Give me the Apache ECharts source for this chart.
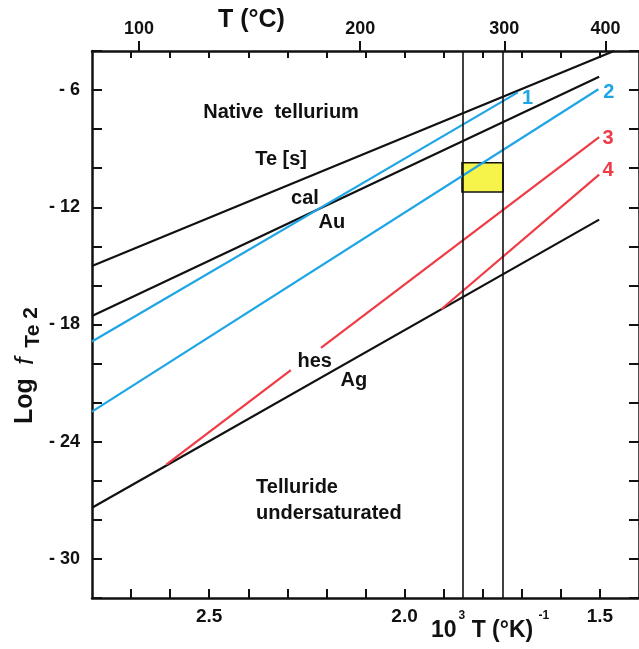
<!DOCTYPE html>
<html>
<head>
<meta charset="utf-8">
<script src="https://cdn.jsdelivr.net/npm/echarts@6/dist/echarts.min.js"></script>
<style>
  html, body { margin: 0; padding: 0; background: #fff; }
  #main { width: 639px; height: 649px; }
</style>
</head>
<body>
<div id="main"></div>
<script>
// axis ticks / labels
const xTicks = [1.5, 1.6, 1.7, 1.8, 1.9, 2.0, 2.1, 2.2, 2.3, 2.4, 2.5, 2.6, 2.7]
const xLabels = [1.5, 2.0, 2.5]
const tempLabels = [100, 200, 300, 400] // °C, top axis
const yLabels = [-6, -12, -18, -24, -30]

// lines, [10^3/T, log fTe2]
const teLine = [[2.8, -15.0], [1.464, -4.0]]
const calLine = [[2.8, -17.56], [1.502, -5.32]]
const blue1 = [[2.8, -18.87], [1.71, -6.12]]
const blue2 = [[2.8, -22.46], [1.504, -5.96]]
const agLine = [[2.8, -27.38], [1.502, -12.63]]
const red3a = [[2.61, -25.17], [2.291, -20.34]]
const red3b = [[2.214, -19.2], [1.502, -8.41]]
const red4 = [[1.906, -17.22], [1.502, -10.33]]

// temperature window and fTe2 box
const tempLines = [1.853, 1.748]
const boxX = [1.853, 1.748]
const boxY = [-9.72, -11.22]

// text in the field
const notes = [
  [2.316, -7.17, 'Native  tellurium'],
  [2.316, -9.57, 'Te [s]'],
  [2.255, -11.56, 'cal'],
  [2.186, -12.78, 'Au'],
  [2.230, -19.87, 'hes'],
  [2.130, -20.89, 'Ag']
]
const lineNums = [
  [1.685, -6.41, '1', '#1ea5e6'],
  [1.477, -6.12, '2', '#1ea5e6'],
  [1.479, -8.46, '3', '#ee3b46'],
  [1.479, -10.11, '4', '#ee3b46']
]

const BLUE = '#1ea5e6'
const RED = '#ee3b46'
const INK = '#111'
const FONT = 'Liberation Sans'

const toX = t => 1000 / (t + 273.15)

const line = (data, color) => ({
  type: 'line',
  data: data,
  showSymbol: false,
  symbol: 'none',
  silent: true,
  lineStyle: { color: color, width: 2.2 },
  z: 3
})

const axisCommon = {
  type: 'value',
  min: 1.4,
  max: 2.8,
  inverse: true,
  splitLine: { show: false },
  axisLine: { lineStyle: { color: INK, width: 2.5 } }
}

const textSeries = (data, label) => ({
  type: 'scatter',
  symbolSize: 0,
  silent: true,
  z: 5,
  itemStyle: { opacity: 1 },
  data: data,
  label: Object.assign({
    show: true, formatter: p => p.name, opacity: 1,
    fontFamily: FONT, fontWeight: 'bold', textBorderWidth: 0
  }, label)
})

const myChart = echarts.init(document.getElementById('main'))
myChart.setOption({
  backgroundColor: '#fff',
  animation: false,
  grid: { left: 92, right: -3, top: 51, bottom: 51 },
  xAxis: [
    {
      ...axisCommon,
      position: 'bottom',
      axisTick: { inside: true, length: 9, customValues: xTicks, lineStyle: { color: INK, width: 2 } },
      axisLabel: {
        customValues: xLabels,
        formatter: v => v.toFixed(1),
        color: INK, fontFamily: FONT, fontWeight: 'bold', fontSize: 19, margin: 9
      }
    },
    {
      ...axisCommon,
      position: 'top',
      axisTick: { inside: true, length: 7, customValues: xTicks, lineStyle: { color: INK, width: 2 } },
      axisLabel: { show: false }
    },
    {
      ...axisCommon,
      position: 'top',
      axisLine: { show: false },
      axisTick: { inside: false, length: 10, customValues: tempLabels.map(toX), lineStyle: { color: INK, width: 2 } },
      axisLabel: {
        customValues: tempLabels.map(toX),
        formatter: v => String(Math.round(1000 / v - 273.15)),
        color: INK, fontFamily: FONT, fontWeight: 'bold', fontSize: 18, margin: 13
      }
    }
  ],
  yAxis: [
    {
      type: 'value',
      position: 'left',
      min: -32,
      max: -4,
      interval: 2,
      splitLine: { show: false },
      axisLine: { lineStyle: { color: INK, width: 2.5 } },
      axisTick: { inside: true, length: 10, lineStyle: { color: INK, width: 2 } },
      axisLabel: {
        customValues: yLabels,
        formatter: v => '- ' + Math.abs(v),
        color: INK, fontFamily: FONT, fontWeight: 'bold', fontSize: 18, margin: 12
      }
    },
    {
      type: 'value',
      position: 'right',
      min: -32,
      max: -4,
      interval: 2,
      splitLine: { show: false },
      axisLine: { lineStyle: { color: INK, width: 2.5 } },
      axisTick: { inside: true, length: 10, lineStyle: { color: INK, width: 2 } },
      axisLabel: { show: false }
    }
  ],
  series: [
    // yellow box + the two temperature lines
    {
      type: 'line',
      data: [],
      silent: true,
      z: 1,
      markArea: {
        silent: true,
        itemStyle: { color: '#f6f34a', borderColor: INK, borderWidth: 1.6 },
        data: [[{ xAxis: boxX[0], yAxis: boxY[0] }, { xAxis: boxX[1], yAxis: boxY[1] }]]
      },
      markLine: {
        silent: true,
        symbol: 'none',
        label: { show: false },
        lineStyle: { color: INK, width: 1.6, type: 'solid' },
        data: tempLines.map(v => ({ xAxis: v }))
      }
    },
    line(teLine, INK),
    line(calLine, INK),
    line(agLine, INK),
    line(blue1, BLUE),
    line(blue2, BLUE),
    line(red3a, RED),
    line(red3b, RED),
    line(red4, RED),
    textSeries(
      notes.map(n => ({ value: [n[0], n[1]], name: n[2] })),
      { position: 'inside', color: INK, fontSize: 20 }
    ),
    textSeries(
      lineNums.map(n => ({ value: [n[0], n[1]], name: n[2], label: { color: n[3] } })),
      { position: 'inside', fontSize: 20 }
    ),
    textSeries(
      [{ value: [2.38, -27.0], name: 'Telluride\nundersaturated' }],
      { position: 'right', distance: 0, color: INK, fontSize: 20, lineHeight: 26, align: 'left' }
    )
  ],
  graphic: [
    {
      type: 'text', left: 218, top: 8,
      style: { text: 'T (°C)', fill: INK, font: 'bold 25px "Liberation Sans"' }
    },
    {
      type: 'text', x: 13, y: 424, rotation: Math.PI / 2,
      style: {
        text: '{a|Log}    {f|f}   {s|Te}{t| 2}',
        fill: INK,
        rich: {
          a: { fontFamily: FONT, fontWeight: 'bold', fontSize: 25, verticalAlign: 'top', fill: INK },
          f: { fontFamily: FONT, fontStyle: 'italic', fontSize: 26, verticalAlign: 'top', fill: INK },
          s: { fontFamily: FONT, fontWeight: 'bold', fontSize: 21, verticalAlign: 'top', padding: [10, 0, 0, 0], fill: INK },
          t: { fontFamily: FONT, fontWeight: 'bold', fontSize: 21, verticalAlign: 'top', padding: [8, 0, 0, 0], fill: INK }
        }
      }
    },
    {
      type: 'text', left: 431, top: 610,
      style: {
        text: '{a|10}{b|3}{a| T (°K)}{b| -1}',
        fill: INK,
        rich: {
          a: { fontFamily: FONT, fontWeight: 'bold', fontSize: 23, verticalAlign: 'top', padding: [9, 0, 0, 0], fill: INK },
          b: { fontFamily: FONT, fontWeight: 'bold', fontSize: 12, verticalAlign: 'top', padding: [0, 0, 0, 2], fill: INK }
        }
      }
    }
  ]
})
</script>
</body>
</html>
